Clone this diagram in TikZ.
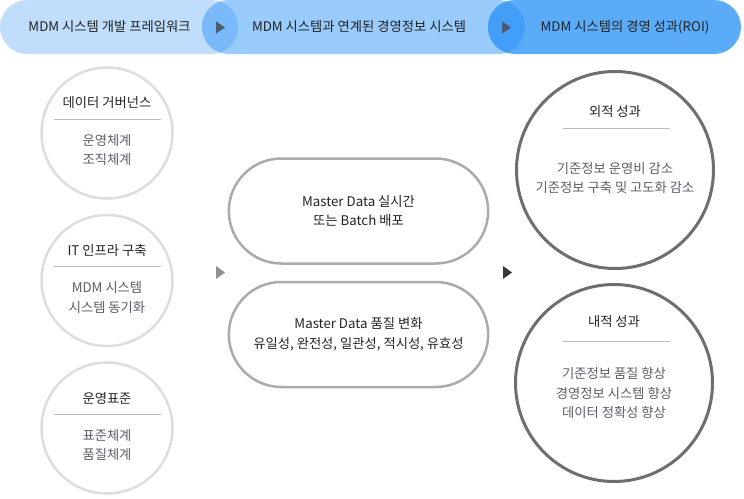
\documentclass[tikz,border=0pt]{standalone}
\usepackage{fontspec}
\usepackage{xcolor}
\usepackage{tikz}
\usetikzlibrary{shapes.geometric, shapes.misc}
\setmainfont{Noto Sans CJK KR}
\definecolor{bannerlight}{RGB}{192,222,252}
\definecolor{bannermid}{RGB}{153,203,253}
\definecolor{bannerdark}{RGB}{90,172,248}
\definecolor{lensmid}{RGB}{122,186,251}
\definecolor{lensdark}{RGB}{67,158,247}
\definecolor{tipblue}{RGB}{74,90,112}
\definecolor{ringlight}{RGB}{221,221,221}
\definecolor{ringmid}{RGB}{171,171,171}
\definecolor{ringdark}{RGB}{110,110,110}
\definecolor{textdark}{RGB}{34,34,34}
\definecolor{textgray}{RGB}{90,94,102}

\begin{document}
\begin{tikzpicture}[x=1pt, y=-1pt, node distance=147.5pt]
    \tikzstyle{banner} = [rounded rectangle, minimum height=54pt, inner sep=0pt]
    \tikzstyle{headtext} = [font=\fontsize{13.3}{16}\selectfont, text=textdark]
    \tikzstyle{basis} = [circle, draw=ringlight, line width=2.5pt, minimum size=131pt, inner sep=0pt]
    \tikzstyle{change} = [rounded rectangle, draw=ringmid, line width=2.5pt, minimum width=266pt, minimum height=105pt, align=center, font=\fontsize{13.3}{19.5}\selectfont, text=textdark]
    \tikzstyle{result} = [circle, draw=ringdark, line width=3pt, minimum size=197pt, inner sep=0pt]
    \tikzstyle{ringtitle} = [font=\fontsize{13.3}{16}\selectfont, text=textdark]
    \tikzstyle{ringbody} = [font=\fontsize{13.3}{19.5}\selectfont, text=textgray, align=center]
    \tikzstyle{divider} = [draw=ringmid!80, line width=0.8pt]

    \useasboundingbox (0,0) rectangle (744,498);

    % Header banners
    \node [banner, fill=bannerlight, minimum width=238pt] (frame) at (119,27) {};
    \node [banner, fill=bannermid, minimum width=323pt] (link) at (363.5,27) {};
    \node [banner, fill=bannerdark, minimum width=253pt] (roi) at (614.5,27) {};
    \begin{scope}
        \clip (211,27) circle[radius=27pt];
        \fill [lensmid] (229,27) circle[radius=27pt];
    \end{scope}
    \begin{scope}
        \clip (498,27) circle[radius=27pt];
        \fill [lensdark] (515,27) circle[radius=27pt];
    \end{scope}
    \fill [tipblue] (220.5,27.5) ++(-4.5,-6) -- ++(9,6) -- ++(-9,6) -- cycle;
    \fill [tipblue] (506.5,27.5) ++(-4.5,-6) -- ++(9,6) -- ++(-9,6) -- cycle;
    \node [headtext] (frametext) at (109.5,27) {MDM 시스템 개발 프레임워크};
    \node [headtext] (linktext) at (359,27) {MDM 시스템과 연계된 경영정보 시스템};
    \node [headtext] (roitext) at (625,27) {MDM 시스템의 경영 성과(ROI)};

    % Framework circles
    \node [basis] (gov) at (107,133) {};
    \node [basis, below of=gov] (infra) {};
    \node [basis, below of=infra] (rule) {};

    \node [ringtitle, yshift=30pt] (govtitle) at (gov) {데이터 거버넌스};
    \draw [divider] ([xshift=-53.5pt, yshift=14pt]gov.center) -- ([xshift=53.5pt, yshift=14pt]gov.center);
    \node [ringbody, yshift=-17pt] (govbody) at (gov) {운영체계\\조직체계};

    \node [ringtitle, yshift=30pt] (infratitle) at (infra) {IT 인프라 구축};
    \draw [divider] ([xshift=-53.5pt, yshift=14pt]infra.center) -- ([xshift=53.5pt, yshift=14pt]infra.center);
    \node [ringbody, yshift=-17pt] (infrabody) at (infra) {MDM 시스템\\시스템 동기화};

    \node [ringtitle, yshift=30pt] (ruletitle) at (rule) {운영표준};
    \draw [divider] ([xshift=-53.5pt, yshift=14pt]rule.center) -- ([xshift=53.5pt, yshift=14pt]rule.center);
    \node [ringbody, yshift=-17pt] (rulebody) at (rule) {표준체계\\품질체계};

    % Linked systems
    \node [change] (deploy) at (358.5,211) {Master Data 실시간\\또는 Batch 배포};
    \node [change] (quality) at (358.5,334.5) {Master Data 품질 변화\\유일성, 완전성, 일관성, 적시성, 유효성};
    \fill [ringmid!85!black] (220.5,272.5) ++(-4.5,-6.5) -- ++(9,6.5) -- ++(-9,6.5) -- cycle;
    \fill [textdark!90] (507.5,272.5) ++(-4.5,-6.5) -- ++(9,6.5) -- ++(-9,6.5) -- cycle;

    % ROI circles
    \node [result] (outer) at (615,170) {};
    \node [result] (inner) at (614,383) {};

    \node [ringtitle, yshift=58pt] (outertitle) at (outer) {외적 성과};
    \draw [divider] ([xshift=-52pt, yshift=42pt]outer.center) -- ([xshift=55pt, yshift=42pt]outer.center);
    \node [ringbody, yshift=-8pt] (outerbody) at (outer) {기준정보 운영비 감소\\기준정보 구축 및 고도화 감소};

    \node [ringtitle, yshift=61pt] (innertitle) at (inner) {내적 성과};
    \draw [divider] ([xshift=-51pt, yshift=42pt]inner.center) -- ([xshift=56pt, yshift=42pt]inner.center);
    \node [ringbody, yshift=-10pt] (innerbody) at (inner) {기준정보 품질 향상\\경영정보 시스템 향상\\데이터 정확성 향상};
\end{tikzpicture}
\end{document}
